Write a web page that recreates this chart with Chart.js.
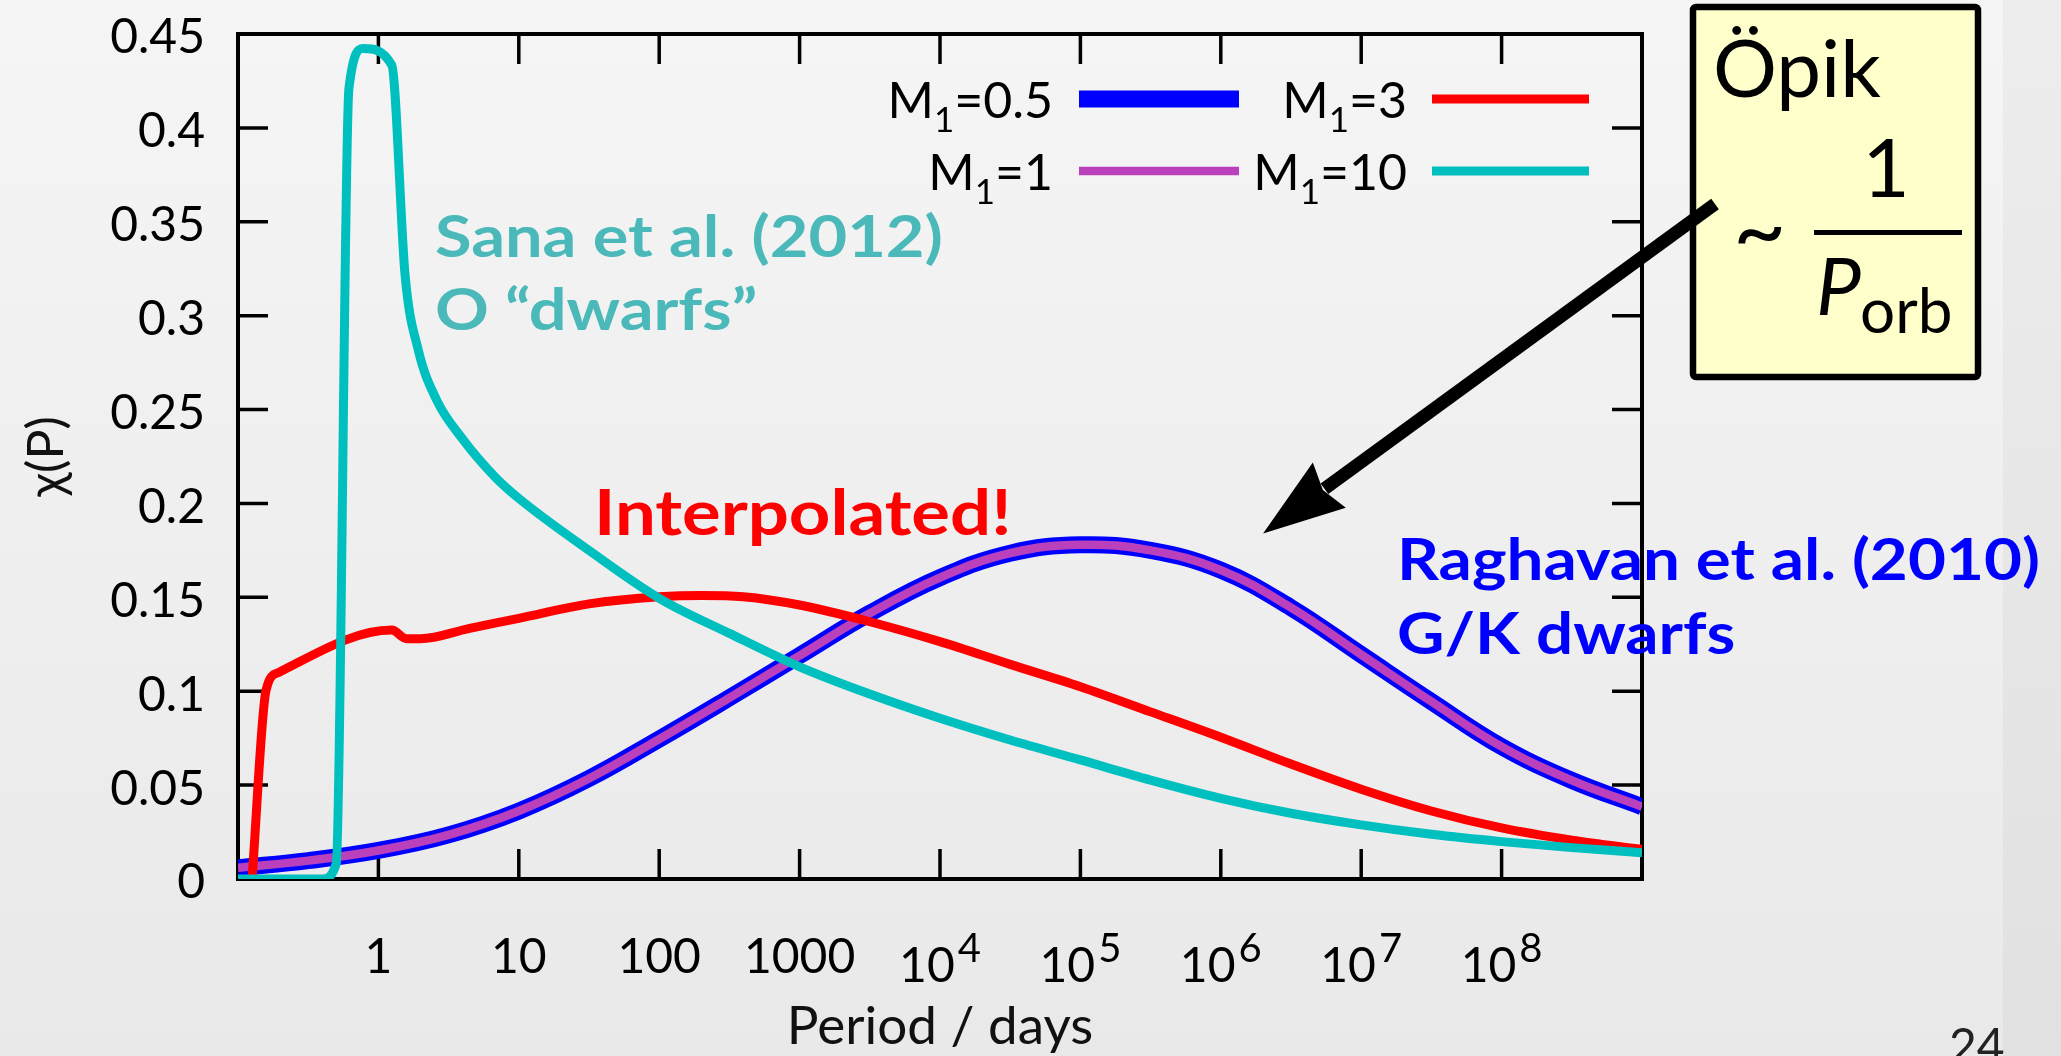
<!DOCTYPE html>
<html>
<head>
<meta charset="utf-8">
<script src="https://cdn.jsdelivr.net/npm/chart.js@4/dist/chart.umd.min.js"></script>
<style>
html, body { margin: 0; padding: 0; background: #eeeeee; }
canvas { display: block; }
</style>
</head>
<body>
<canvas id="periodos" width="2061" height="1056"></canvas>
<script>
const logPeriodRaghavan = [-1, -0.5, 0, 0.5, 1, 1.5, 2, 2.5, 3, 3.5, 4, 4.5, 5, 5.5, 6, 6.5, 7, 7.5, 8, 8.5, 9];
const chiM05 = [0.006, 0.0098, 0.0152, 0.0235, 0.0362, 0.0535, 0.0745, 0.0965, 0.119, 0.1415, 0.1605, 0.1735, 0.178, 0.175, 0.1645, 0.1445, 0.1195, 0.0945, 0.0705, 0.0525, 0.0385];
const chiM1 = [0.006, 0.0098, 0.0152, 0.0235, 0.0362, 0.0535, 0.0745, 0.0965, 0.119, 0.1415, 0.1605, 0.1735, 0.178, 0.175, 0.1645, 0.1445, 0.1195, 0.0945, 0.0705, 0.0525, 0.0385];

const logPeriodM3 = [-0.9, -0.8, -0.71, 0.095, 0.2, 0.3, 0.65, 1, 1.5, 2, 2.3, 2.6, 3, 3.5, 4, 4.5, 5, 5.5, 6, 6.5, 7, 7.5, 8, 8.5, 9];
const chiM3 = [0, 0.1006, 0.11, 0.1326, 0.128, 0.128, 0.1335, 0.1388, 0.1465, 0.1503, 0.151, 0.1503, 0.1459, 0.137, 0.1264, 0.1143, 0.1024, 0.089, 0.0755, 0.0612, 0.0478, 0.0362, 0.0272, 0.0207, 0.0158];

const logPeriodM10 = [-1, -0.4, -0.3, -0.21, -0.107, 0.095, 0.19, 0.284, 0.415, 0.605, 0.83, 1, 1.5, 2, 2.5, 3, 3.5, 4, 4.5, 5, 5.5, 6, 6.5, 7, 7.5, 8, 8.5, 9];
const chiM10 = [0, 0, 0.0083, 0.421, 0.4423, 0.4335, 0.3216, 0.2817, 0.255, 0.2338, 0.2142, 0.2027, 0.175, 0.1495, 0.1308, 0.113, 0.0985, 0.0856, 0.074, 0.0634, 0.0527, 0.043, 0.035, 0.0288, 0.0238, 0.0199, 0.0167, 0.014];

const xTickValues = [1, 10, 100, 1000, 1e4, 1e5, 1e6, 1e7, 1e8];
const xTickLabels = ['1', '10', '100', '1000', '10^4', '10^5', '10^6', '10^7', '10^8'];
const yTickValues = [0.05, 0.1, 0.15, 0.2, 0.25, 0.3, 0.35, 0.4];

// where the arrow from the Opik box points (data units)
const arrowTip = { period: 2e6, chi: 0.184 };

function puntos(logs, vals) {
    return logs.map((lp, i) => ({ x: Math.pow(10, lp), y: vals[i] }));
}

const FONT = 'Lato';

// gnuplot style legend: text right-aligned, line sample after it
const legendSlots = [
    { textRight: 1053, x0: 1079, x1: 1239, y: 99 },
    { textRight: 1053, x0: 1079, x1: 1239, y: 171 },
    { textRight: 1407, x0: 1432, x1: 1589, y: 99 },
    { textRight: 1407, x0: 1432, x1: 1589, y: 171 }
];

function drawLabelSub(ctx, label, right, base) {
    // label like "M\u2081=0.5": draw the subscript smaller and lower
    const parts = label.split('\u2081');
    ctx.font = '50px ' + FONT;
    const w0 = ctx.measureText(parts[0]).width;
    const w2 = ctx.measureText(parts[1]).width;
    ctx.font = '35px ' + FONT;
    const w1 = ctx.measureText('1').width;
    let x = right - (w0 + w1 + w2);
    ctx.textAlign = 'left';
    ctx.textBaseline = 'alphabetic';
    ctx.font = '50px ' + FONT;
    ctx.fillText(parts[0], x, base);
    ctx.font = '35px ' + FONT;
    ctx.fillText('1', x + w0, base + 14);
    ctx.font = '50px ' + FONT;
    ctx.fillText(parts[1], x + w0 + w1, base);
}

// the slide font is wider than Lato, stretch a little
function textoAncho(ctx, str, x, y, sx) {
    ctx.save();
    ctx.translate(x, y);
    ctx.scale(sx, 1);
    ctx.fillText(str, 0, 0);
    ctx.restore();
}

const marco = {
    id: 'marco',
    beforeDraw(chart) {
        const { ctx, width, height } = chart;
        const g = ctx.createLinearGradient(0, 0, 0, height);
        g.addColorStop(0, '#f5f5f5');
        g.addColorStop(1, '#e9e9e9');
        ctx.save();
        ctx.fillStyle = g;
        ctx.fillRect(0, 0, width, height);
        ctx.fillStyle = 'rgba(0,0,0,0.03)';
        ctx.fillRect(2003, 0, width - 2003, height);
        ctx.restore();
    },
    beforeDatasetsDraw(chart) {
        const { ctx, chartArea: a } = chart;
        const xs = chart.scales.x, ys = chart.scales.y;
        ctx.save();
        ctx.strokeStyle = '#000';
        ctx.lineWidth = 4;
        ctx.strokeRect(a.left, a.top, a.right - a.left, a.bottom - a.top);
        ctx.lineWidth = 3.5;
        ctx.beginPath();
        xTickValues.forEach(v => {
            const x = xs.getPixelForValue(v);
            ctx.moveTo(x, a.bottom); ctx.lineTo(x, a.bottom - 30);
            ctx.moveTo(x, a.top); ctx.lineTo(x, a.top + 30);
        });
        yTickValues.forEach(v => {
            const y = ys.getPixelForValue(v);
            ctx.moveTo(a.left, y); ctx.lineTo(a.left + 30, y);
            ctx.moveTo(a.right, y); ctx.lineTo(a.right - 30, y);
        });
        ctx.stroke();

        // x tick labels with superscripts
        ctx.fillStyle = '#000';
        ctx.textBaseline = 'alphabetic';
        xTickValues.forEach((v, i) => {
            const x = xs.getPixelForValue(v);
            const lab = xTickLabels[i];
            if (lab.indexOf('^') >= 0) {
                const [b, s] = lab.split('^');
                ctx.font = '48px ' + FONT;
                const wb = ctx.measureText(b).width;
                ctx.font = '40px ' + FONT;
                const ws = ctx.measureText(s).width;
                const x0 = x - (wb + 3 + ws) / 2;
                ctx.textAlign = 'left';
                ctx.font = '48px ' + FONT;
                ctx.fillText(b, x0, a.bottom + 103);
                ctx.font = '40px ' + FONT;
                ctx.fillText(s, x0 + wb + 3, a.bottom + 83);
            } else {
                ctx.textAlign = 'center';
                ctx.font = '48px ' + FONT;
                ctx.fillText(lab, x, a.bottom + 94);
            }
        });
        ctx.restore();
    },
    afterDatasetsDraw(chart) {
        const { ctx } = chart;
        const xs = chart.scales.x, ys = chart.scales.y;
        ctx.save();

        // legend
        ctx.fillStyle = '#000';
        chart.data.datasets.forEach((ds, i) => {
            const s = legendSlots[i];
            drawLabelSub(ctx, ds.label, s.textRight, s.y + 19);
            ctx.strokeStyle = ds.borderColor;
            ctx.lineWidth = ds.borderWidth;
            ctx.lineCap = 'butt';
            ctx.beginPath();
            ctx.moveTo(s.x0, s.y); ctx.lineTo(s.x1, s.y);
            ctx.stroke();
        });

        // annotations
        ctx.textAlign = 'left';
        ctx.textBaseline = 'alphabetic';
        ctx.font = 'bold 58px ' + FONT;
        ctx.fillStyle = '#4bb9b9';
        textoAncho(ctx, 'Sana et al. (2012)', 435, 257, 1.15);
        textoAncho(ctx, 'O \u201cdwarfs\u201d', 435, 330, 1.15);
        ctx.fillStyle = '#0000ff';
        textoAncho(ctx, 'Raghavan et al. (2010)', 1397, 580, 1.13);
        textoAncho(ctx, 'G/K dwarfs', 1397, 654, 1.13);
        ctx.font = 'bold 63px ' + FONT;
        ctx.fillStyle = '#ff0000';
        textoAncho(ctx, 'Interpolated!', 594, 535, 1.15);

        // Opik box
        ctx.fillStyle = '#ffffcc';
        ctx.strokeStyle = '#000';
        ctx.lineWidth = 6.5;
        ctx.beginPath();
        ctx.roundRect(1693, 7, 285, 370, 3);
        ctx.fill();
        ctx.stroke();
        ctx.fillStyle = '#000';
        ctx.font = '80px ' + FONT;
        ctx.fillText('\u00d6pik', 1713, 97);
        ctx.font = '92px ' + FONT;
        ctx.fillText('~', 1733, 262);
        ctx.textAlign = 'center';
        ctx.font = '82px ' + FONT;
        ctx.fillText('1', 1886, 197);
        ctx.fillRect(1814, 230, 148, 5);
        ctx.textAlign = 'left';
        ctx.font = 'italic 80px ' + FONT;
        ctx.fillText('P', 1816, 315);
        ctx.font = '62px ' + FONT;
        ctx.fillText('orb', 1860, 333);

        // arrow
        const tx = xs.getPixelForValue(arrowTip.period);
        const ty = ys.getPixelForValue(arrowTip.chi);
        const sx = 1715, sy = 204;
        const ang = Math.atan2(ty - sy, tx - sx);
        const hl = 82, hw = 28;
        const bx = tx - hl * Math.cos(ang), by = ty - hl * Math.sin(ang);
        ctx.strokeStyle = '#000';
        ctx.lineWidth = 13;
        ctx.beginPath();
        ctx.moveTo(sx, sy); ctx.lineTo(bx + 6 * Math.cos(ang), by + 6 * Math.sin(ang));
        ctx.stroke();
        ctx.beginPath();
        ctx.moveTo(tx, ty);
        ctx.lineTo(bx - hw * Math.sin(ang), by + hw * Math.cos(ang));
        ctx.lineTo(bx + 8 * Math.cos(ang), by + 8 * Math.sin(ang));
        ctx.lineTo(bx + hw * Math.sin(ang), by - hw * Math.cos(ang));
        ctx.closePath();
        ctx.fill();

        // slide number
        ctx.fillStyle = '#222';
        ctx.font = '48px ' + FONT;
        ctx.fillText('24', 1949, 1063);
        ctx.restore();
    }
};

const data = {
    datasets: [
        { label: 'M\u2081=0.5', data: puntos(logPeriodRaghavan, chiM05), borderColor: '#0000ff', borderWidth: 17, order: 4, cubicInterpolationMode: 'default', tension: 0.4 },
        { label: 'M\u2081=1', data: puntos(logPeriodRaghavan, chiM1), borderColor: '#bb40bb', borderWidth: 8.5, order: 3, cubicInterpolationMode: 'default', tension: 0.4 },
        { label: 'M\u2081=3', data: puntos(logPeriodM3, chiM3), borderColor: '#ff0000', borderWidth: 9, order: 2 },
        { label: 'M\u2081=10', data: puntos(logPeriodM10, chiM10), borderColor: '#00bfbf', borderWidth: 9, order: 1 }
    ]
};

const config = {
    type: 'line',
    data: data,
    options: {
        responsive: false,
        animation: false,
        devicePixelRatio: 1,
        layout: { padding: { top: 34, right: 419, left: 0, bottom: 0 } },
        plugins: { legend: { display: false }, tooltip: { enabled: false } },
        elements: {
            point: { radius: 0 },
            line: { cubicInterpolationMode: 'monotone', fill: false }
        },
        scales: {
            x: {
                type: 'logarithmic',
                min: 0.1,
                max: 1e9,
                grid: { display: false, drawTicks: false },
                border: { display: false },
                ticks: { display: false },
                title: { display: true, text: 'Period / days', color: '#111', font: { family: FONT, size: 53, lineHeight: 1 }, padding: { top: 0, bottom: 2.5 } },
                afterFit(scale) { scale.height = 177; }
            },
            y: {
                min: 0,
                max: 0.45,
                grid: { display: false, drawTicks: false },
                border: { display: false },
                ticks: {
                    stepSize: 0.05,
                    color: '#000',
                    padding: 33,
                    labelOffset: 4,
                    font: { family: FONT, size: 48 },
                    callback: v => String(+v.toFixed(2))
                },
                title: { display: true, text: '\u03c7(P)', color: '#111', font: { family: FONT, size: 50, lineHeight: 1 }, padding: { top: 22, bottom: 0 } },
                afterFit(scale) {
                    scale.width = 238;
                    // labels may stick out above/below, the frame must not move
                    scale.paddingTop = 0;
                    scale.paddingBottom = 0;
                }
            }
        }
    },
    plugins: [marco]
};

const grafica = new Chart(document.getElementById('periodos'), config);
</script>
</body>
</html>
